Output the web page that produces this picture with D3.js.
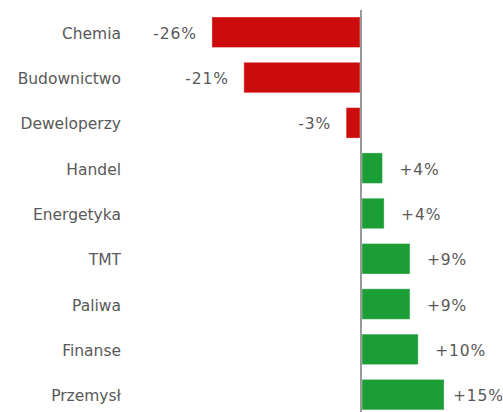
<!DOCTYPE html>
<html>
<head>
<meta charset="utf-8">
<script src="https://cdn.jsdelivr.net/npm/d3@7"></script>
<style>
  html, body { margin: 0; padding: 0; background: #fff; }
  svg { display: block; }
</style>
</head>
<body>
<svg id="chart"></svg>
<script>
const categories = ['Chemia', 'Budownictwo', 'Deweloperzy', 'Handel', 'Energetyka', 'TMT', 'Paliwa', 'Finanse', 'Przemysł']
const values = [-27.1, -21.3, -2.7, 3.9, 4.2, 8.9, 8.9, 10.4, 15.1]
const valueLabels = ['-26%', '-21%', '-3%', '+4%', '+4%', '+9%', '+9%', '+10%', '+15%']

const width = 503
const height = 412

const svg = d3.select('#chart')
  .attr('width', width)
  .attr('height', height)

const data = categories.map((c, i) => ({ name: c, value: values[i], label: valueLabels[i] }))

// ------------------
// Scales
// ------------------
const x = d3.scaleLinear()
  .domain([-30, 25])
  .range([361 - 30 * 5.5, 361 + 25 * 5.5])

const y = d3.scaleBand()
  .domain(categories)
  .range([9.6, 417.3])
  .paddingInner(0.327)
  .paddingOuter(0.1635)

const font = 'DejaVu Sans, Verdana, sans-serif'
const textColor = '#595959'

// ------------------
// Bars
// ------------------
svg.selectAll('.bar')
  .data(data)
  .enter()
  .append('rect')
  .attr('class', 'bar')
  .attr('x', d => d.value < 0 ? x(d.value) : x(0) + 1)
  .attr('y', d => y(d.name))
  .attr('width', d => Math.abs(x(d.value) - x(0)) - 1)
  .attr('height', y.bandwidth())
  .attr('fill', d => d.value < 0 ? '#CC0C0C' : '#1B9E35')
  .attr('stroke', 'rgba(255,255,255,0.35)')
  .attr('stroke-width', 1)

// zero line
svg.append('line')
  .attr('x1', x(0))
  .attr('x2', x(0))
  .attr('y1', 10)
  .attr('y2', height)
  .attr('stroke', '#9a9a9a')
  .attr('stroke-width', 2)

// ------------------
// Category labels
// ------------------
svg.selectAll('.cat')
  .data(data)
  .enter()
  .append('text')
  .attr('class', 'cat')
  .attr('x', 121)
  .attr('y', d => y(d.name) + y.bandwidth() / 2 + 1.5)
  .attr('text-anchor', 'end')
  .attr('dominant-baseline', 'central')
  .attr('font-family', font)
  .attr('font-size', 15.5)
  .attr('fill', textColor)
  .text(d => d.name)

// ------------------
// Value labels
// ------------------
svg.selectAll('.val')
  .data(data)
  .enter()
  .append('text')
  .attr('class', 'val')
  .attr('y', d => y(d.name) + y.bandwidth() / 2 + 1.5)
  .attr('dominant-baseline', 'central')
  .attr('font-family', font)
  .attr('font-size', 15.5)
  .attr('letter-spacing', 0.9)
  .attr('fill', textColor)
  .text(d => d.label)
  .each(function (d) {
    const w = this.getComputedTextLength()
    const t = d3.select(this)
    if (d.value < 0) {
      t.attr('x', x(d.value) - 15).attr('text-anchor', 'end')
    } else {
      t.attr('x', Math.min(x(d.value) + 17, width - w + 1)).attr('text-anchor', 'start')
    }
  })
</script>
</body>
</html>
